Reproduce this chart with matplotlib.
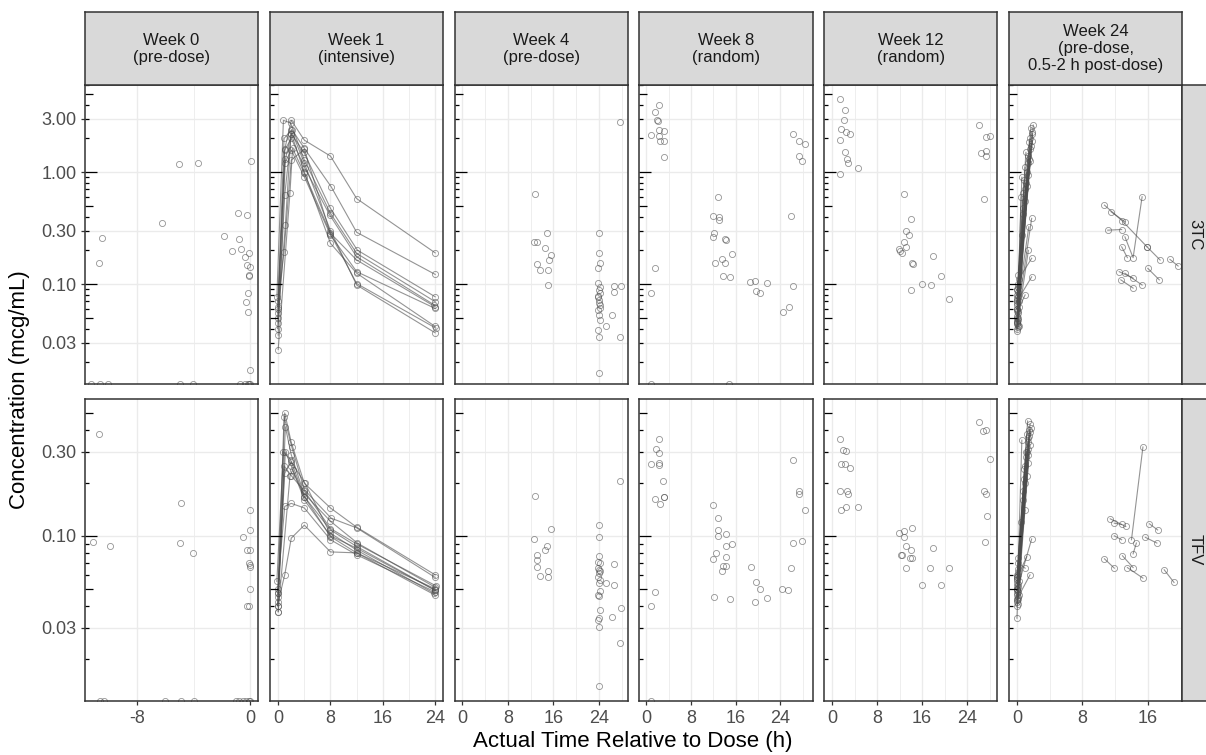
import matplotlib
matplotlib.use("Agg")
import matplotlib.pyplot as plt

plt.rcParams['font.family'] = ['Liberation Sans', 'DejaVu Sans']

# facet labels
week_labels = ["Week 0\n(pre-dose)", "Week 1\n(intensive)", "Week 4\n(pre-dose)",
               "Week 8\n(random)", "Week 12\n(random)",
               "Week 24\n(pre-dose,\n0.5-2 h post-dose)"]
analyte_labels = ["3TC", "TFV"]

# ---- Week 0 (pre-dose), (time h, conc) ----
w0_3tc = [(-10.69, 0.153), (-10.45, 0.256), (-6.21, 0.353), (-5.05, 1.18), (-3.68, 1.20),
          (0.02, 1.25), (-1.84, 0.268), (-0.85, 0.433), (-0.21, 0.413), (-0.80, 0.252),
          (-1.27, 0.198), (-0.66, 0.204), (-0.12, 0.188), (-0.35, 0.175), (-0.24, 0.148),
          (-0.05, 0.143), (-0.12, 0.120), (-0.08, 0.118), (-0.19, 0.084), (-0.33, 0.0696),
          (-0.19, 0.0566), (-0.05, 0.0171)]
w0_3tc_blq = [-11.2, -10.6, -10.0, -4.96, -4.06, -0.7, -0.4, -0.2, -0.1, 0.0]
w0_tfv = [(-10.69, 0.378), (-11.09, 0.0928), (-9.91, 0.088), (-4.88, 0.153), (-4.96, 0.0909),
          (-4.06, 0.0798), (-0.54, 0.099), (0.0, 0.1404), (-0.05, 0.108), (-0.24, 0.0833),
          (0.0, 0.0833), (-0.12, 0.070), (0.0, 0.0684), (-0.05, 0.0669), (0.0, 0.0498),
          (-0.24, 0.0400), (-0.12, 0.0400)]
w0_tfv_blq = [-10.6, -10.3, -6.0, -4.9, -3.96, -1.0, -0.8, -0.5, -0.3, -0.1, 0.0]

# ---- Week 1 (intensive PK), one row per subject ----
w1_times = [[0.0, 1.0, 2.0, 4.0, 8.0, 12.0, 24.0],
            [-0.1, 0.9, 2.1, 4.0, 8.1, 12.0, 24.0],
            [0.0, 1.1, 2.0, 3.9, 8.0, 12.1, 24.0],
            [-0.2, 0.8, 1.9, 4.0, 8.0, 12.0, 24.0],
            [0.0, 1.0, 2.0, 4.1, 7.9, 12.0, 23.9],
            [0.0, 1.8, 2.2, 4.0, 8.0, 12.0, 24.0],
            [-0.1, 1.0, 2.0, 4.0, 8.0, 12.0, 24.0],
            [0.0, 1.0, 2.0, 4.0, 8.0, 12.0, 24.0],
            [0.0, 0.9, 2.0, 4.0, 8.0, 12.0, 24.1],
            [-0.1, 1.1, 2.0, 4.0, 8.0, 12.0, 24.0]]
w1_3tc = [[0.060, 1.60, 2.90, 1.93, 1.39, 0.580, 0.190],
          [0.050, 2.00, 2.40, 1.63, 0.74, 0.290, 0.122],
          [0.035, 1.30, 2.20, 1.52, 0.474, 0.201, 0.077],
          [0.077, 2.90, 2.75, 1.28, 0.428, 0.188, 0.0696],
          [0.055, 1.57, 2.00, 1.08, 0.413, 0.175, 0.0649],
          [0.026, 0.65, 1.63, 0.973, 0.284, 0.164, 0.0627],
          [0.063, 1.20, 1.57, 0.908, 0.274, 0.129, 0.0606],
          [0.045, 0.62, 2.21, 1.00, 0.231, 0.125, 0.0418],
          [0.070, 0.194, 1.28, 1.60, 0.280, 0.101, 0.0404],
          [0.040, 0.337, 2.37, 1.20, 0.300, 0.098, 0.0367]]
w1_tfv = [[0.047, 0.500, 0.340, 0.199, 0.144, 0.112, 0.060],
          [0.040, 0.476, 0.318, 0.183, 0.126, 0.111, 0.058],
          [0.037, 0.417, 0.289, 0.175, 0.121, 0.091, 0.051],
          [0.055, 0.301, 0.270, 0.167, 0.108, 0.087, 0.049],
          [0.045, 0.227, 0.264, 0.199, 0.104, 0.083, 0.047],
          [0.037, 0.218, 0.237, 0.167, 0.099, 0.080, 0.046],
          [0.050, 0.147, 0.153, 0.144, 0.095, 0.078, 0.048],
          [0.042, 0.060, 0.097, 0.115, 0.081, 0.080, 0.050],
          [0.047, 0.250, 0.220, 0.180, 0.110, 0.090, 0.052],
          [0.040, 0.300, 0.250, 0.160, 0.100, 0.085, 0.049]]

# ---- Week 4 (pre-dose) ----
w4_3tc = [(27.7, 2.78), (12.8, 0.632), (14.9, 0.284), (12.5, 0.239), (13.2, 0.239),
          (14.6, 0.208), (15.6, 0.182), (15.3, 0.164), (13.1, 0.151), (13.6, 0.133),
          (15.1, 0.133), (15.1, 0.099),
          (24.0, 0.288), (24.0, 0.188), (24.1, 0.153), (23.9, 0.138), (23.9, 0.103),
          (24.1, 0.0945), (24.0, 0.0886), (24.2, 0.0826), (23.9, 0.0772), (24.0, 0.072),
          (24.1, 0.065), (23.8, 0.0587), (24.0, 0.053), (24.2, 0.0477), (23.9, 0.0386),
          (24.0, 0.0338), (24.0, 0.0159), (24.0, 0.068), (24.1, 0.061), (23.9, 0.079),
          (26.6, 0.096), (27.8, 0.096), (26.6, 0.0854), (26.3, 0.053), (25.2, 0.0418),
          (27.7, 0.0338)]
w4_tfv = [(27.7, 0.205), (12.8, 0.169), (15.5, 0.109), (12.5, 0.0958), (14.8, 0.087),
          (14.5, 0.0833), (13.2, 0.0773), (13.2, 0.0724), (13.1, 0.0669), (13.6, 0.0593),
          (15.1, 0.0633), (15.1, 0.0587),
          (24.0, 0.115), (24.0, 0.099), (24.0, 0.077), (23.9, 0.0714), (24.1, 0.070),
          (23.9, 0.0655), (24.0, 0.0641), (24.1, 0.0627), (24.0, 0.0614), (23.9, 0.0587),
          (24.2, 0.0562), (24.0, 0.0538), (24.1, 0.0483), (23.9, 0.0462), (24.0, 0.0452),
          (24.1, 0.038), (24.0, 0.034), (23.9, 0.0334), (24.0, 0.0303), (24.0, 0.014),
          (25.2, 0.0538), (26.6, 0.069), (26.7, 0.0527), (27.8, 0.0388), (26.3, 0.0345),
          (27.7, 0.0246)]

# ---- Week 8 (random) ----
w8_3tc = [(2.23, 3.96), (1.5, 3.41), (1.9, 2.91), (2.1, 2.85), (2.2, 2.37), (3.1, 2.34),
          (0.84, 2.14), (2.2, 2.10), (2.5, 1.89), (3.1, 1.89), (3.1, 1.37), (1.5, 0.138),
          (0.84, 0.084),
          (12.8, 0.594), (11.9, 0.405), (13.0, 0.40), (13.1, 0.373), (12.1, 0.287),
          (12.0, 0.264), (14.1, 0.252), (14.2, 0.25), (15.4, 0.185), (12.3, 0.153),
          (13.5, 0.169), (14.1, 0.155), (13.8, 0.119), (14.9, 0.116),
          (18.6, 0.105), (19.4, 0.107), (21.6, 0.103), (19.7, 0.087), (20.3, 0.084),
          (26.2, 2.21), (27.4, 1.89), (28.5, 1.77), (27.4, 1.39), (27.9, 1.25),
          (26.0, 0.405), (26.2, 0.096), (25.5, 0.062), (24.5, 0.056)]
w8_3tc_blq = [0.8, 14.8]
w8_tfv = [(2.23, 0.354), (1.8, 0.311), (2.3, 0.295), (0.84, 0.256), (2.3, 0.259),
          (2.3, 0.252), (3.0, 0.205), (1.5, 0.162), (3.1, 0.166), (3.2, 0.167),
          (2.5, 0.152), (1.5, 0.048), (0.84, 0.040),
          (11.9, 0.149), (12.8, 0.126), (12.9, 0.108), (12.9, 0.100), (14.2, 0.103),
          (15.4, 0.0897), (14.2, 0.0877), (12.5, 0.080), (12.0, 0.074), (14.3, 0.0757),
          (13.7, 0.0678), (14.2, 0.0678), (13.5, 0.0627), (12.1, 0.0446), (14.9, 0.0439),
          (18.8, 0.0669), (19.7, 0.0545), (20.4, 0.0500), (19.4, 0.0423), (21.6, 0.0443),
          (24.4, 0.0498), (25.4, 0.0494),
          (26.3, 0.270), (27.3, 0.179), (27.3, 0.173), (28.5, 0.140), (27.9, 0.094),
          (26.2, 0.091), (26.0, 0.0655)]
w8_tfv_blq = [0.8]

# ---- Week 12 (random) ----
w12_3tc = [(1.47, 4.49), (2.2, 3.58), (2.06, 2.91), (1.6, 2.42), (2.5, 2.26), (3.1, 2.17),
           (1.47, 1.93), (2.3, 1.5), (2.6, 1.31), (2.8, 1.2), (4.55, 1.08), (1.42, 0.97),
           (12.8, 0.636), (14.1, 0.378), (13.1, 0.297), (13.7, 0.274), (12.7, 0.239),
           (13.1, 0.215), (11.9, 0.204), (12.1, 0.198), (12.4, 0.19), (14.2, 0.153),
           (14.3, 0.150), (17.9, 0.178), (19.3, 0.118), (16.0, 0.100), (17.5, 0.098),
           (14.1, 0.0886), (20.8, 0.073),
           (26.2, 2.63), (27.4, 2.07), (28.0, 2.10), (27.4, 1.54), (26.5, 1.49),
           (27.3, 1.39), (27.1, 0.574)]
w12_tfv = [(1.42, 0.354), (2.0, 0.308), (2.5, 0.304), (1.6, 0.256), (2.3, 0.256),
           (3.2, 0.242), (1.42, 0.179), (2.7, 0.179), (2.9, 0.173), (1.6, 0.140),
           (2.5, 0.146), (4.55, 0.146),
           (11.9, 0.104), (12.8, 0.107), (12.7, 0.099), (14.2, 0.111), (13.1, 0.088),
           (14.1, 0.083), (12.2, 0.078), (12.5, 0.078), (13.8, 0.0746), (14.2, 0.0746),
           (13.1, 0.0655), (17.9, 0.085), (17.4, 0.0655), (20.7, 0.0655), (16.0, 0.0522),
           (19.3, 0.0527),
           (26.1, 0.443), (26.8, 0.395), (27.4, 0.40), (28.1, 0.274), (27.0, 0.179),
           (27.4, 0.173), (27.5, 0.129), (27.2, 0.092)]

# ---- Week 24 (pre-dose, 0.5-2 h post-dose), samples joined per subject ----
w24_3tc = [[(0.0, 0.045), (2.0, 2.63)], [(0.1, 0.050), (1.8, 2.3)], [(0.05, 0.060), (1.6, 2.0)],
           [(0.0, 0.040), (1.5, 1.85)], [(0.2, 0.070), (1.6, 1.6)], [(0.1, 0.055), (1.3, 1.4)],
           [(0.0, 0.080), (1.6, 1.25)], [(0.15, 0.048), (1.0, 1.1)], [(0.05, 0.090), (1.3, 0.95)],
           [(0.0, 0.065), (0.9, 0.85)], [(0.1, 0.100), (1.2, 0.75)], [(0.2, 0.042), (0.8, 0.65)],
           [(0.0, 0.075), (1.0, 0.55)], [(0.1, 0.085), (0.7, 0.48)], [(0.05, 0.052), (1.8, 0.386)],
           [(0.0, 0.060), (1.45, 0.325)], [(0.1, 0.095), (0.6, 0.274)], [(0.05, 0.044), (1.4, 0.20)],
           [(0.2, 0.110), (1.8, 0.17)], [(0.0, 0.070), (1.8, 0.116)], [(0.1, 0.058), (1.0, 0.08)],
           [(0.0, 0.038), (0.6, 0.9)], [(0.15, 0.120), (1.1, 1.5)], [(0.05, 0.047), (0.5, 0.6)],
           [(0.0, 0.050), (1.9, 2.2)], [(0.1, 0.043), (1.7, 1.7)], [(0.0, 0.068), (1.4, 1.2)],
           [(0.05, 0.057), (1.2, 1.0)], [(0.1, 0.078), (1.1, 0.8)], [(0.0, 0.046), (1.7, 2.5)],
           [(0.2, 0.062), (1.5, 1.3)], [(0.0, 0.088), (1.9, 1.9)], [(0.1, 0.041), (1.0, 0.7)],
           [(0.05, 0.072), (0.8, 0.42)],
           [(10.7, 0.507), (12.9, 0.365), (15.9, 0.215)], [(11.5, 0.443), (13.2, 0.36)],
           [(11.1, 0.303), (12.8, 0.307)], [(12.8, 0.215), (13.5, 0.172)],
           [(13.2, 0.264), (14.2, 0.172), (15.3, 0.602)], [(15.9, 0.215), (17.5, 0.164)],
           [(18.7, 0.166), (19.7, 0.145)], [(16.0, 0.138), (17.4, 0.109)],
           [(12.5, 0.129), (14.2, 0.113)], [(12.7, 0.109), (14.2, 0.092)],
           [(13.2, 0.125), (15.3, 0.098)]]
w24_tfv = [[(0.0, 0.040), (1.6, 0.433)], [(0.1, 0.045), (1.5, 0.40)], [(0.05, 0.050), (1.2, 0.38)],
           [(0.0, 0.042), (1.4, 0.36)], [(0.2, 0.055), (1.6, 0.33)], [(0.1, 0.048), (1.3, 0.31)],
           [(0.0, 0.060), (1.1, 0.28)], [(0.15, 0.044), (1.4, 0.26)], [(0.05, 0.058), (0.9, 0.24)],
           [(0.0, 0.052), (1.2, 0.22)], [(0.1, 0.065), (1.0, 0.20)], [(0.2, 0.046), (0.8, 0.18)],
           [(0.0, 0.056), (0.7, 0.16)], [(0.1, 0.062), (1.0, 0.14)], [(0.05, 0.050), (1.8, 0.096)],
           [(0.0, 0.058), (1.2, 0.076)], [(0.1, 0.070), (1.0, 0.0655)], [(0.05, 0.044), (1.6, 0.060)],
           [(0.0, 0.034), (0.5, 0.12)], [(0.15, 0.075), (1.1, 0.30)], [(0.05, 0.047), (0.6, 0.35)],
           [(0.1, 0.053), (1.3, 0.45)], [(0.0, 0.049), (1.7, 0.41)], [(0.1, 0.041), (1.5, 0.37)],
           [(0.05, 0.054), (1.3, 0.34)], [(0.0, 0.046), (1.2, 0.30)], [(0.15, 0.060), (1.0, 0.25)],
           [(0.0, 0.043), (0.9, 0.21)], [(0.1, 0.051), (1.6, 0.39)], [(0.05, 0.057), (1.4, 0.29)],
           [(14.0, 0.095), (15.4, 0.32)], [(11.4, 0.125), (13.3, 0.113)],
           [(11.9, 0.118), (12.8, 0.116)], [(11.9, 0.100), (12.8, 0.095)],
           [(15.7, 0.098), (17.1, 0.091)], [(16.2, 0.117), (17.2, 0.108)],
           [(12.9, 0.077), (14.2, 0.066)], [(10.7, 0.074), (11.9, 0.0655)],
           [(13.5, 0.066), (15.4, 0.0575)], [(18.0, 0.0641), (19.2, 0.0543)],
           [(14.2, 0.079), (14.6, 0.091)]]

# scales (free x per week, free y per analyte)
x_limits = [(-11.65, 0.55), (-1.28, 25.2), (-1.35, 29.05), (-1.26, 29.8), (-1.42, 29.4), (-0.97, 20.2)]
x_breaks = [[-8, 0], [0, 8, 16, 24], [0, 8, 16, 24], [0, 8, 16, 24], [0, 8, 16, 24], [0, 8, 16]]
y_limits = [(0.0128, 6.0), (0.0115, 0.6)]
y_breaks = [[0.03, 0.1, 0.3, 1, 3], [0.03, 0.1, 0.3]]
y_break_labels = [["0.03", "0.10", "0.30", "1.00", "3.00"], ["0.03", "0.10", "0.30"]]

scatter_data = {(0, 0): (w0_3tc, w0_3tc_blq), (1, 0): (w0_tfv, w0_tfv_blq),
                (0, 2): (w4_3tc, []), (1, 2): (w4_tfv, []),
                (0, 3): (w8_3tc, w8_3tc_blq), (1, 3): (w8_tfv, w8_tfv_blq),
                (0, 4): (w12_3tc, []), (1, 4): (w12_tfv, [])}
line_data = {(0, 1): [list(zip(t, c)) for t, c in zip(w1_times, w1_3tc)],
             (1, 1): [list(zip(t, c)) for t, c in zip(w1_times, w1_tfv)],
             (0, 5): w24_3tc, (1, 5): w24_tfv}

W, H = 1206, 755
col_left = [85, 269.8, 454.6, 639.4, 824.2, 1009]
pw = 173.2
row_top = [85, 399]
row_h = [299, 302]
strip_top = 12.3

PT = (0.3, 0.3, 0.3, 0.6)
LN = (0.3, 0.3, 0.3, 0.6)
BORDER = '#333333'
STRIP = '#d9d9d9'


def add_logticks(ax, ylim):
    tr = ax.get_yaxis_transform()
    for e in range(-3, 2):
        for k in range(1, 10):
            v = k * 10.0 ** e
            if ylim[0] <= v <= ylim[1]:
                L = 12 if k == 1 else (8 if k == 5 else 4)
                ax.plot([0, L / pw], [v, v], transform=tr, color='black', lw=0.9,
                        solid_capstyle='butt', zorder=4)


def draw_pts(ax, t, c):
    ax.plot(t, c, ls='none', marker='o', ms=4.4, mfc='none', mec=PT, mew=0.6, zorder=3)


fig = plt.figure(figsize=(W / 100, H / 100), dpi=100)

for r in range(2):
    for ci in range(6):
        ax = fig.add_axes([col_left[ci] / W, 1 - (row_top[r] + row_h[r]) / H, pw / W, row_h[r] / H])
        ax.set_yscale('log')
        ax.set_xlim(*x_limits[ci])
        ax.set_ylim(*y_limits[r])
        ax.yaxis.set_minor_locator(matplotlib.ticker.NullLocator())
        ax.set_yticks(y_breaks[r])
        xb = x_breaks[ci]
        ax.set_xticks(xb)
        step = xb[1] - xb[0]
        ax.set_xticks([xb[0] - step / 2] + [b + step / 2 for b in xb], minor=True)
        ax.set_xlim(*x_limits[ci])
        ax.set_xticklabels([str(b) for b in xb] if r == 1 else [])
        if ci == 0:
            ax.set_yticklabels(y_break_labels[r])
            ax.tick_params(axis='y', which='major', length=3.2, width=0.9, color=BORDER,
                           labelsize=13, labelcolor='#4d4d4d', pad=3)
        else:
            ax.set_yticklabels([])
            ax.tick_params(axis='y', which='major', length=0)
        if r == 1:
            ax.tick_params(axis='x', which='major', length=3.2, width=0.9, color=BORDER,
                           labelsize=13, labelcolor='#4d4d4d', pad=3)
        else:
            ax.tick_params(axis='x', which='major', length=0)
        ax.tick_params(axis='x', which='minor', length=0)
        ax.grid(True, which='major', color='#ebebeb', lw=1.0, zorder=0)
        ax.grid(True, which='minor', axis='x', color='#ebebeb', lw=0.6, zorder=0)
        ax.set_axisbelow(True)
        for s in ax.spines.values():
            s.set_color(BORDER)
            s.set_linewidth(1.1)
            s.set_zorder(5)

        add_logticks(ax, y_limits[r])

        if (r, ci) in scatter_data:
            pts, blq = scatter_data[(r, ci)]
            draw_pts(ax, [p[0] for p in pts], [p[1] for p in pts])
            if blq:
                draw_pts(ax, blq, [y_limits[r][0]] * len(blq))
        if (r, ci) in line_data:
            for subj in line_data[(r, ci)]:
                t = [p[0] for p in subj]
                c = [p[1] for p in subj]
                ax.plot(t, c, color=LN, lw=0.8, zorder=2)
                draw_pts(ax, t, c)

    # right strip
    sax = fig.add_axes([(col_left[5] + pw) / W, 1 - (row_top[r] + row_h[r]) / H, 30 / W, row_h[r] / H])
    sax.set_facecolor(STRIP)
    sax.set_xticks([])
    sax.set_yticks([])
    for s in sax.spines.values():
        s.set_color(BORDER)
        s.set_linewidth(1.1)
    sax.text(12.5 / 30, 0.5, analyte_labels[r], rotation=-90, ha='center', va='center',
             fontsize=12, color='#1a1a1a', transform=sax.transAxes)

# top strips
for ci in range(6):
    sax = fig.add_axes([col_left[ci] / W, 1 - row_top[0] / H, pw / W, (row_top[0] - strip_top) / H])
    sax.set_facecolor(STRIP)
    sax.set_xticks([])
    sax.set_yticks([])
    for s in sax.spines.values():
        s.set_color(BORDER)
        s.set_linewidth(1.1)
    sax.text(0.5, 0.5, week_labels[ci], ha='center', va='center', fontsize=12,
             color='#1a1a1a', linespacing=1.15, transform=sax.transAxes)

fig.text(20 / W, 1 - 390 / H, "Concentration (mcg/mL)", rotation=90, ha='center', va='center',
         fontsize=16, color='black')
fig.text(633 / W, 1 - 742 / H, "Actual Time Relative to Dose (h)", ha='center', va='center',
         fontsize=16, color='black')

fig.savefig("out.png", dpi=100)
